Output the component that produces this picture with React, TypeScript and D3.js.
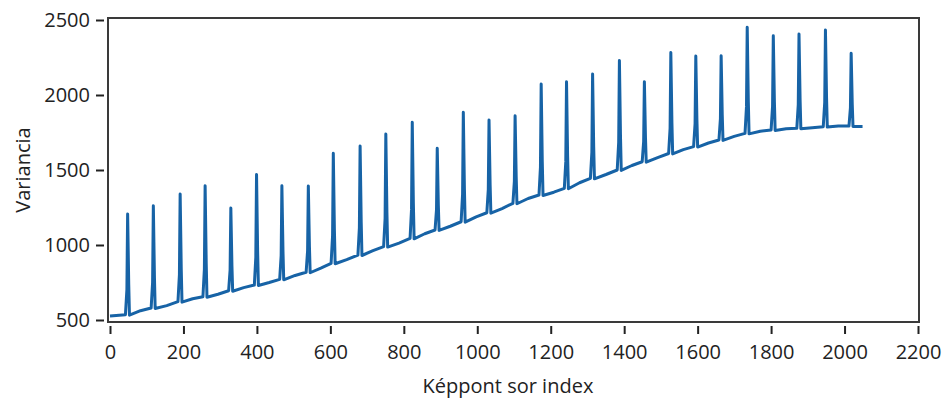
import React, { useEffect, useRef } from 'react';
import * as d3 from 'd3';

// values
const spikeIndex = [48, 118, 191, 259, 329, 399, 468, 540, 608, 681, 751, 823, 891, 962, 1032,
  1103, 1174, 1243, 1314, 1387, 1455, 1527, 1595, 1664, 1735, 1806, 1876, 1948, 2018];
const spikePeak = [1207, 1262, 1340, 1395, 1247, 1470, 1395, 1393, 1611, 1660, 1740, 1818, 1645, 1885, 1833,
  1862, 2073, 2089, 2140, 2230, 2089, 2284, 2260, 2262, 2451, 2395, 2407, 2433, 2278];
const spikeBase = [535, 580, 622, 655, 695, 733, 771, 818, 878, 933, 989, 1044, 1100, 1155, 1215,
  1278, 1333, 1378, 1444, 1500, 1555, 1610, 1656, 1700, 1744, 1767, 1778, 1789, 1793];
// baseline level roughly halfway between one spike and the next
const midBase = [562, 596, 642, 672, 716, 750, 797, 846, 903, 962, 1013, 1075, 1125, 1188, 1243,
  1310, 1352, 1415, 1470, 1530, 1583, 1636, 1680, 1724, 1758, 1775, 1782, 1794];
const startPoint: [number, number] = [0, 527];
const endPoint: [number, number] = [2049, 1790];

const xTicks = [0, 200, 400, 600, 800, 1000, 1200, 1400, 1600, 1800, 2000, 2200];
const yTicks = [500, 1000, 1500, 2000, 2500];

const App = () => {
  const ref = useRef<SVGSVGElement>(null);

  useEffect(() => {
    document.body.style.margin = '0';
    const svg = d3.select(ref.current);
    svg.selectAll('*').remove();

    const x = d3.scaleLinear().domain([0, 2200]).range([110, 918]);
    const y = d3.scaleLinear().domain([500, 2500]).range([320, 20]);

    // build the line from the spike readings
    const pts: [number, number][] = [startPoint];
    spikeIndex.forEach((p, i) => {
      const b = spikeBase[i];
      const h = spikePeak[i] - b;
      pts.push([p - 6, b]);
      pts.push([p - 2, b + h * 0.25]);
      pts.push([p, spikePeak[i]]);
      pts.push([p + 3, b + h * 0.3]);
      pts.push([p + 5, b - 3]);
      if (i < midBase.length) pts.push([(p + spikeIndex[i + 1]) / 2, midBase[i]]);
    });
    pts.push(endPoint);

    const font = '"Open Sans", sans-serif';

    svg.append('path')
      .datum(pts)
      .attr('fill', 'none')
      .attr('stroke', '#1763a6')
      .attr('stroke-width', 3)
      .attr('stroke-linejoin', 'round')
      .attr('d', d3.line<[number, number]>().x(d => x(d[0])).y(d => y(d[1])));

    // frame
    svg.append('rect')
      .attr('x', 108).attr('y', 18)
      .attr('width', 811).attr('height', 304)
      .attr('fill', 'none')
      .attr('stroke', '#3a3a3a')
      .attr('stroke-width', 2);

    const yAxis = d3.axisLeft(y).tickValues(yTicks).tickFormat(d3.format('d')).tickSize(8).tickPadding(6);
    const gy = svg.append('g').attr('transform', 'translate(104,0)').call(yAxis);
    const xAxis = d3.axisBottom(x).tickValues(xTicks).tickFormat(d3.format('d')).tickSize(8).tickPadding(11);
    const gx = svg.append('g').attr('transform', 'translate(0,326)').call(xAxis);

    [gx, gy].forEach(g => {
      g.select('.domain').remove();
      g.selectAll('line').attr('stroke', '#222').attr('stroke-width', 2);
      g.selectAll('text')
        .attr('fill', '#222')
        .style('font-family', font)
        .style('font-size', '20px');
    });

    svg.append('text')
      .attr('x', 508).attr('y', 393)
      .attr('text-anchor', 'middle')
      .attr('fill', '#222')
      .style('font-family', font)
      .style('font-size', '20px')
      .text('Képpont sor index');

    svg.append('text')
      .attr('transform', 'translate(30,170) rotate(-90)')
      .attr('text-anchor', 'middle')
      .attr('fill', '#222')
      .style('font-family', font)
      .style('font-size', '20px')
      .text('Variancia');
  }, []);

  return <svg ref={ref} width={944} height={400} style={{ display: 'block' }} />;
};

export default App;
